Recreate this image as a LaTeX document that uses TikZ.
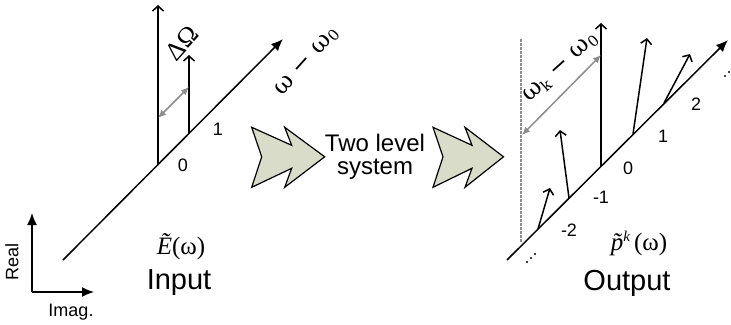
\documentclass[tikz,border=0pt]{standalone}
\usepackage{fontspec}
\setmainfont{Liberation Sans}
\newfontfamily\tnr{Liberation Serif}
\newfontfamily\wfont{DejaVu Serif}
\usetikzlibrary{arrows.meta}
\definecolor{chev}{RGB}{217,220,200}
\definecolor{gr}{RGB}{140,140,140}
\begin{document}
\begin{tikzpicture}[x=1pt,y=-1pt,
  axisline/.style={line width=1.5pt,-{Latex[length=12pt,width=10pt]}},
  spike/.style={line width=1.5pt,-{Straight Barb[length=5pt,width=11pt,line width=1.5pt]}},
  gap/.style={gr,line width=1.5pt,{Latex[length=8pt,width=7pt]}-{Latex[length=8pt,width=7pt]}},
  chevshape/.style={fill=chev,draw=black,line width=1.2pt,line join=miter},
  lbl/.style={font=\fontsize{18}{20}\selectfont,inner sep=0pt},
  big/.style={font=\fontsize{29}{32}\selectfont,inner sep=0pt},
  mid/.style={font=\fontsize{24}{26}\selectfont,inner sep=0pt,align=center},
  serifl/.style={font=\tnr\fontsize{25}{27}\selectfont,inner sep=0pt},
  wlbl/.style={font=\wfont\fontsize{24}{26}\selectfont,inner sep=0pt},
  dot/.style={fill=black,circle,inner sep=0pt,minimum size=2.2pt}]
\useasboundingbox (0,0) rectangle (731,324);
% ---------- left diagram ----------
\coordinate (la0) at (63,260);
\coordinate (la1) at (283,39);
\draw[axisline] (la0) -- (la1);
\coordinate (b0) at (158,165);
\coordinate (b1) at (189,134);
\coordinate (t0) at (158,5);
\coordinate (t1) at (189,55);
\draw[spike] (b0) -- (t0);
\draw[spike] (b1) -- (t1);
\coordinate (g0) at (158,118);
\coordinate (g1) at (189,87);
\draw[gap] (g0) -- (g1);
\node[font=\tnr\fontsize{26}{28}\selectfont,rotate=48] (dO) at (182,43) {ΔΩ};
\node[lbl] (l0) at (183,165) {0};
\node[lbl] (l1) at (218,129) {1};
\node[wlbl,rotate=48] (wlab) at (307,62) {ω − ω\raisebox{-3pt}{\fontsize{15}{15}\selectfont 0}};
\node[serifl] (Ein) at (181,247) {\itshape\~{E}\upshape(ω)};
\node[big] (inp) at (179,283) {Input};
% Real / Imag axes
\coordinate (rc) at (32,292);
\coordinate (ru) at (32,213);
\coordinate (ri) at (94,292);
\draw[axisline] (rc) -- (ru);
\draw[axisline] (rc) -- (ri);
\node[lbl,rotate=90] (real) at (12,262) {Real};
\node[lbl] (imag) at (71,312) {Imag.};
% ---------- chevrons ----------
\draw[chevshape] (251.7,127.3) -- ++(40,18) -- ++(-7,-18) -- ++(40,29.5) -- ++(-40,30.5) -- ++(7,-19) -- ++(-40,19) -- ++(10,-30.5) -- cycle;
\draw[chevshape] (433,127.3) -- ++(39,18) -- ++(-7,-18) -- ++(38.5,29.5) -- ++(-38.5,30.5) -- ++(7,-19) -- ++(-39,19) -- ++(10,-30.5) -- cycle;
\node[mid] (tls) at (375,157) {Two level\\[-3pt]system};
% ---------- right diagram ----------
\coordinate (ra0) at (507,260);
\coordinate (ra1) at (728,40);
\draw[axisline] (ra0) -- (ra1);
\coordinate (dt) at (521,39);
\coordinate (db) at (521,243);
\draw[gr,line width=1.3pt,dash pattern=on 2.5pt off 1.5pt] (dt) -- (db);
\coordinate (p-2) at (538,229);
\coordinate (p-1) at (569,198);
\coordinate (p0) at (601,166);
\coordinate (p1) at (633,134);
\coordinate (p2) at (664,103);
\coordinate (q-2) at (550,188);
\coordinate (q-1) at (560,130);
\coordinate (q0) at (601,23);
\coordinate (q1) at (647,38);
\coordinate (q2) at (690,54);
\foreach \k in {-2,-1,0,1,2} \draw[spike] (p\k) -- (q\k);
\coordinate (h0) at (522,135);
\coordinate (h1) at (601,55);
\draw[gap] (h0) -- (h1);
\node[wlbl,rotate=42] (wk) at (561,68) {ω\raisebox{-4pt}{\fontsize{15}{15}\selectfont k} − ω\raisebox{-3pt}{\fontsize{15}{15}\selectfont 0}};
\node[lbl] (r0) at (628,168) {0};
\node[lbl] (r1) at (663,136) {1};
\node[lbl] (r2) at (696,104) {2};
\node[lbl] (rm1) at (601,197) {-1};
\node[lbl] (rm2) at (569,230) {-2};
% ellipsis dots
\node[dot] (d11) at (527,262) {};
\node[dot] (d12) at (531,258) {};
\node[dot] (d13) at (535,254) {};
\node[dot] (d21) at (725,76) {};
\node[dot] (d22) at (729,72) {};
\node[dot] (d23) at (733,68) {};
\node[serifl] (pk) at (639,243) {\itshape\~{p}\raisebox{9pt}{\fontsize{15}{15}\selectfont k}\upshape\,(ω)};
\node[big] (outp) at (627,283) {Output};
\end{tikzpicture}
\end{document}
